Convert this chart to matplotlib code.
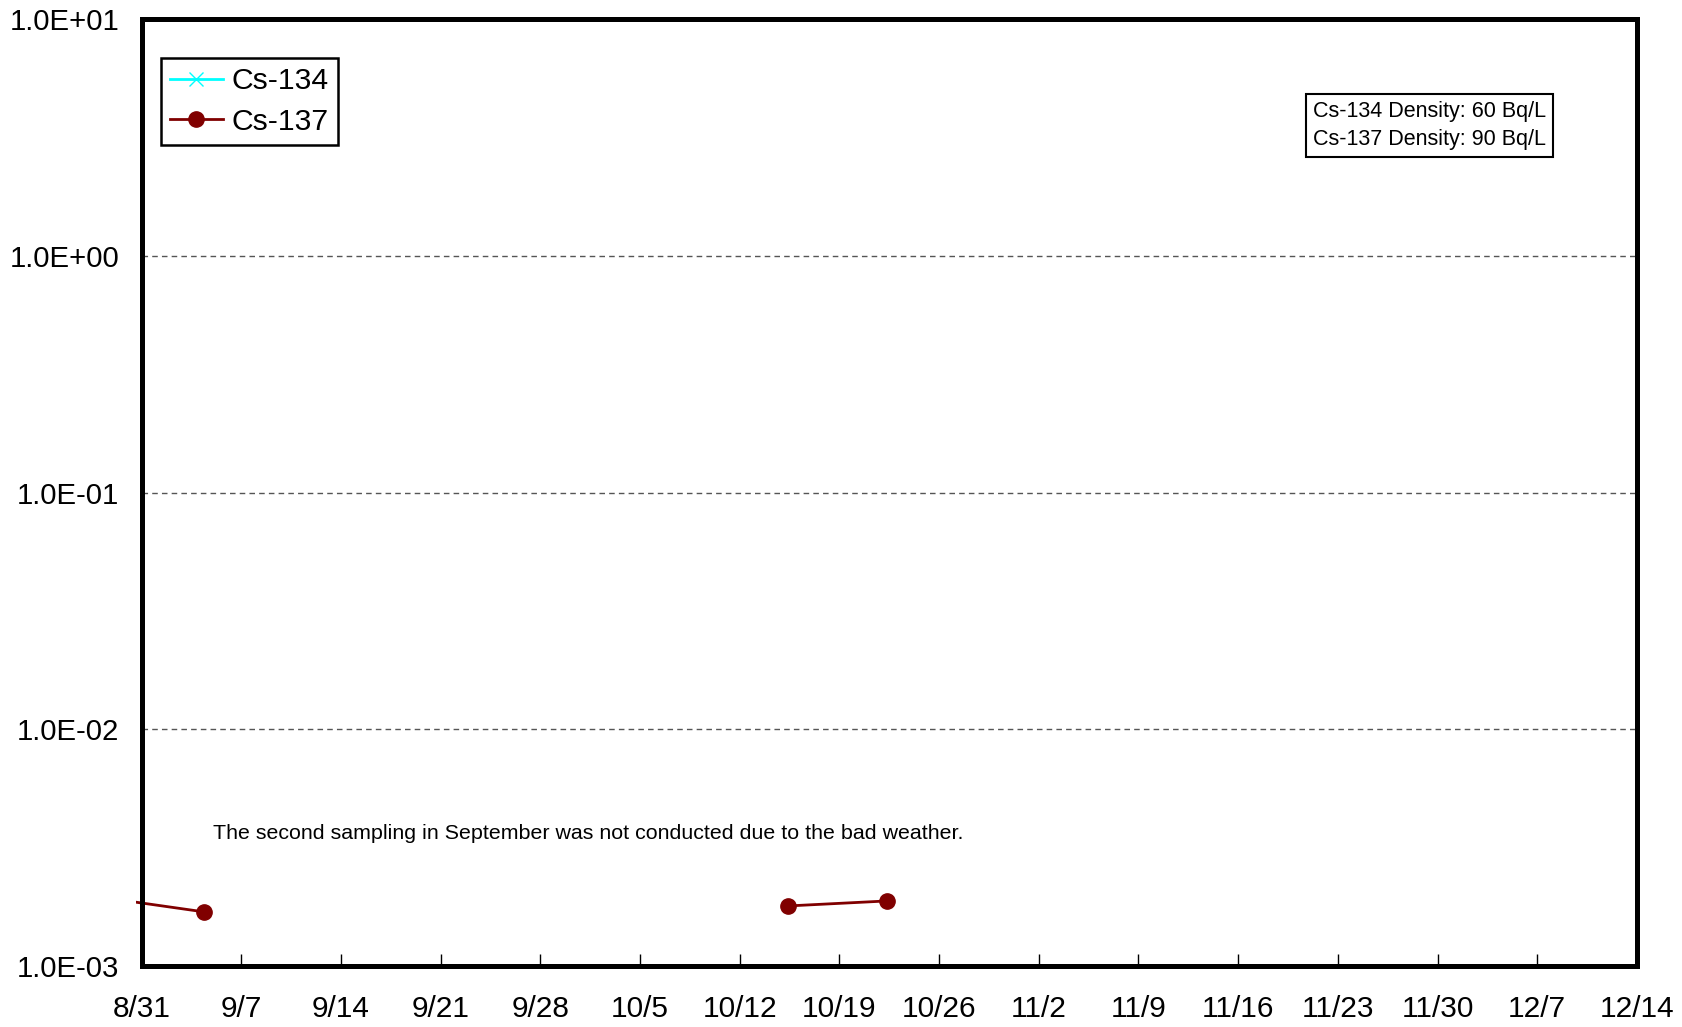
import datetime as dt

import matplotlib
matplotlib.use('Agg')
import matplotlib.pyplot as plt
import matplotlib.dates as mdates
from matplotlib.patches import Rectangle
from matplotlib.ticker import FixedLocator, FuncFormatter

nan = float('nan')

plt.rcParams['font.family'] = ['Liberation Sans', 'DejaVu Sans']

# Cs-134 not detected during this period
cs134_dates = []
cs134_values = []

# Cs-137 (Bq/L); first point lies before the shown range, NaN = no value
cs137_dates = [dt.datetime(2012, 8, 24, 9), dt.datetime(2012, 9, 4, 9),
               dt.datetime(2012, 9, 18, 9),
               dt.datetime(2012, 10, 15, 9), dt.datetime(2012, 10, 22, 9)]
cs137_values = [2.1e-3, 1.69e-3, nan, 1.79e-3, 1.88e-3]

# weekly x ticks
tick_dates = [dt.datetime(2012, 8, 31) + dt.timedelta(days=7 * i) for i in range(16)]
y_ticks = [1e-3, 1e-2, 1e-1, 1e0, 1e1]

note = 'The second sampling in September was not conducted due to the bad weather.'
density_text = 'Cs-134 Density: 60 Bq/L\nCs-137 Density: 90 Bq/L'

fig = plt.figure(figsize=(16.82, 10.27), dpi=100)
ax = fig.add_axes([0.0842, 0.0596, 0.8890, 0.9216])

ax.plot(cs134_dates, cs134_values, color='cyan', marker='x', markersize=10,
        linewidth=2, label='Cs-134')
cs137, = ax.plot(cs137_dates, cs137_values, color='#800000', marker='o',
                 markersize=11, linewidth=2, label='Cs-137')
# Excel lets the line run a few px past the plot edge
clip = Rectangle((-0.004, 0), 1.008, 1, transform=ax.transAxes, visible=False)
ax.add_patch(clip)
cs137.set_clip_path(clip)

ax.set_yscale('log')
ax.set_ylim(1e-3, 1e1)
ax.set_xlim(tick_dates[0], tick_dates[-1])

ax.yaxis.set_major_locator(FixedLocator(y_ticks))
ax.yaxis.set_minor_locator(FixedLocator([]))
ax.yaxis.set_major_formatter(FuncFormatter(lambda v, p: '%.1E' % v))
ax.xaxis.set_major_locator(FixedLocator(mdates.date2num(tick_dates)))
ax.xaxis.set_major_formatter(FuncFormatter(
    lambda v, p: '%d/%d' % (mdates.num2date(v).month, mdates.num2date(v).day)))

ax.tick_params(axis='x', direction='in', length=9, width=1, pad=21, labelsize=21.5)
ax.tick_params(axis='y', length=0, pad=16, labelsize=21.2)

for s in ax.spines.values():
    s.set_linewidth(3.6)

ax.grid(axis='y', which='major', linestyle=(0, (4, 3)), color='#555555', linewidth=1)

leg = ax.legend(loc='upper left', bbox_to_anchor=(0.0129, 0.959), fontsize=21.7,
                fancybox=False, edgecolor='black', framealpha=1,
                handlelength=1.75, handletextpad=0.3, borderpad=0.3,
                labelspacing=0.42, borderaxespad=0)
leg.get_frame().set_linewidth(1.8)

ax.text(dt.datetime(2012, 9, 5), 3.63e-3, note, fontsize=15.4, va='center', ha='left')
ax.text(0.7835, 0.888, density_text, transform=ax.transAxes, fontsize=15.5,
        va='center', ha='left', linespacing=1.45,
        bbox=dict(boxstyle='square,pad=0.32', facecolor='white',
                  edgecolor='black', linewidth=1.5))

fig.savefig('out.png', dpi=100)
